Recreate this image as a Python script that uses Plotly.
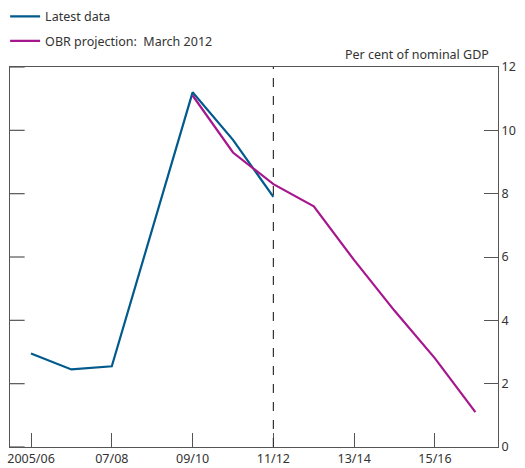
import plotly.graph_objects as go

years = ["2005/06", "06/07", "07/08", "08/09", "09/10", "10/11", "11/12",
         "12/13", "13/14", "14/15", "15/16", "16/17"]
latest = [2.95, 2.45, 2.55, 6.9, 11.2, 9.7, 7.9]
obr_years = years[4:]
obr = [11.1, 9.3, 8.3, 7.6, 5.9, 4.3, 2.8, 1.1]
tick_labels = ["2005/06", "07/08", "09/10", "11/12", "13/14", "15/16"]

idx = {y: i for i, y in enumerate(years)}

fig = go.Figure()
fig.add_trace(go.Scatter(x=[idx[y] for y in years[:7]], y=latest, mode="lines",
                         name="Latest data", line=dict(color="#005a8c", width=2.2)))
fig.add_trace(go.Scatter(x=[idx[y] for y in obr_years], y=obr, mode="lines", legend="legend2",
                         name="OBR projection:  March 2012", line=dict(color="#a6168c", width=2.2)))

fig.add_shape(type="line", x0=6, x1=6, y0=0, y1=12, xref="x", yref="y",
              line=dict(color="#333", width=1.2, dash="dash"))
# left axis ticks
for v in range(0, 13, 2):
    fig.add_shape(type="line", xref="paper", yref="y", x0=0, x1=0.03, y0=v, y1=v,
                  line=dict(color="#555", width=1.2))

leg = dict(x=-0.01, xanchor="left", yanchor="middle", bgcolor="rgba(0,0,0,0)",
           font=dict(size=12.5), itemwidth=30)

fig.update_layout(
    width=525, height=468, plot_bgcolor="white", paper_bgcolor="white",
    margin=dict(l=10, r=27, t=67, b=21, autoexpand=False),
    font=dict(family="Noto Sans", size=12.5, color="#333"),
    showlegend=True,
    legend=dict(leg, y=1.132),
    legend2=dict(leg, y=1.068),
    xaxis=dict(range=[-0.52, 11.56], tickvals=[idx[t] for t in tick_labels], ticktext=tick_labels,
               ticks="inside", ticklen=14, tickcolor="#555", showgrid=False, zeroline=False,
               showline=True, linecolor="#555", linewidth=1.2, mirror=True),
    yaxis=dict(range=[0, 12], dtick=2, side="right", ticks="inside", ticklen=14, tickcolor="#555",
               showgrid=False, zeroline=False, showline=True, linecolor="#555", linewidth=1.2,
               mirror=True),
    annotations=[dict(text="Per cent of nominal GDP", xref="paper", yref="paper", x=0.985, y=1.005,
                      xanchor="right", yanchor="bottom", showarrow=False, font=dict(size=12.5))],
)

fig.write_html("out.html", config={"displayModeBar": False},
               post_script="document.body.style.margin='0';")
